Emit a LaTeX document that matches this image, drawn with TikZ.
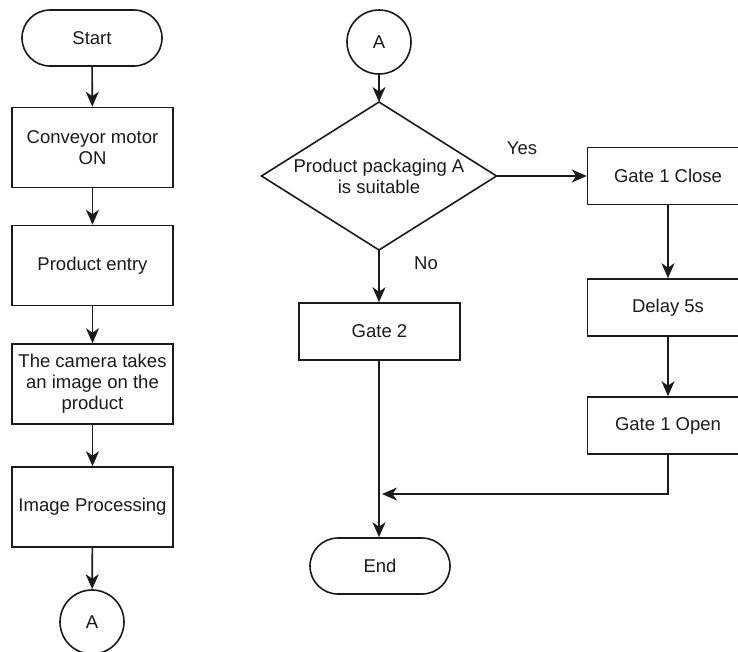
\documentclass[tikz,border=0pt]{standalone}
\usepackage{fontspec}
\setmainfont{Liberation Sans}
\usetikzlibrary{shapes.geometric,arrows.meta}
\definecolor{ink}{HTML}{1A1A1A}
\begin{document}
\begin{tikzpicture}[x=1pt,y=-1pt,
  every node/.style={font=\fontsize{18.5}{21}\selectfont, text=ink},
  box/.style={draw=ink, line width=1.6pt, rectangle, minimum width=161pt, minimum height=80pt, align=center, inner sep=0pt},
  sbox/.style={box, minimum height=57pt},
  term/.style={draw=ink, line width=1.6pt, rectangle, rounded corners=28pt, minimum width=140pt, minimum height=56pt, inner sep=0pt},
  conn/.style={draw=ink, line width=1.6pt, circle, minimum size=64pt, inner sep=0pt},
  arr/.style={draw=ink, line width=1.6pt, -{Stealth[length=15pt, width=13pt, inset=4.5pt]}},
  ln/.style={draw=ink, line width=1.6pt}
]
\useasboundingbox (0,0) rectangle (738,651);
\clip (0,0) rectangle (738,651);
% left column
\node[term] (start) at (92,38) {Start};
\node[box] (conv) at (92.5,147.5) {Conveyor motor\\ON};
\node[box] (entry) at (92.5,265.5) {Product entry};
\node[box] (cam) at (92.5,384) {The camera takes\\an image on the\\product};
\node[box] (proc) at (92.5,507) {Image Processing};
\node[conn] (a1) at (92,622) {A};
\draw[arr] (start) -- (conv);
\draw[arr] (conv) -- (entry);
\draw[arr] (entry) -- (cam);
\draw[arr] (cam) -- (proc);
\draw[arr] (proc) -- (a1);
% right part
\node[conn] (a2) at (379,42) {A};
\coordinate (dtop) at (379,102);
\coordinate (dbot) at (379,250);
\coordinate (dleft) at (261.5,176);
\coordinate (dright) at (496.5,176);
\draw[ln, line join=miter] (dtop) -- (dright) -- (dbot) -- (dleft) -- cycle;
\node[align=center] (dec) at (379,176) {Product packaging A\\is suitable};
\node[sbox] (g1c) at (668,176) {Gate 1 Close};
\node[sbox] (dly) at (668,307.5) {Delay 5s};
\node[sbox] (g1o) at (668,425.5) {Gate 1 Open};
\node[sbox] (g2) at (379.5,331.5) {Gate 2};
\node[term] (end) at (380,566) {End};
\coordinate (join) at (379,494);
\draw[arr] (a2) -- (dtop);
\draw[arr] (dright) -- (g1c.west);
\draw[arr] (dbot) -- (g2.north -| dbot);
\draw[arr] (g1c) -- (dly);
\draw[arr] (dly) -- (g1o);
\draw[arr] (g2.south -| join) -- (end.north -| join);
\draw[arr, shorten >=3pt] (g1o.south) |- (join);
\node at (522,148) {Yes};
\node at (426,263) {No};
\end{tikzpicture}
\end{document}
